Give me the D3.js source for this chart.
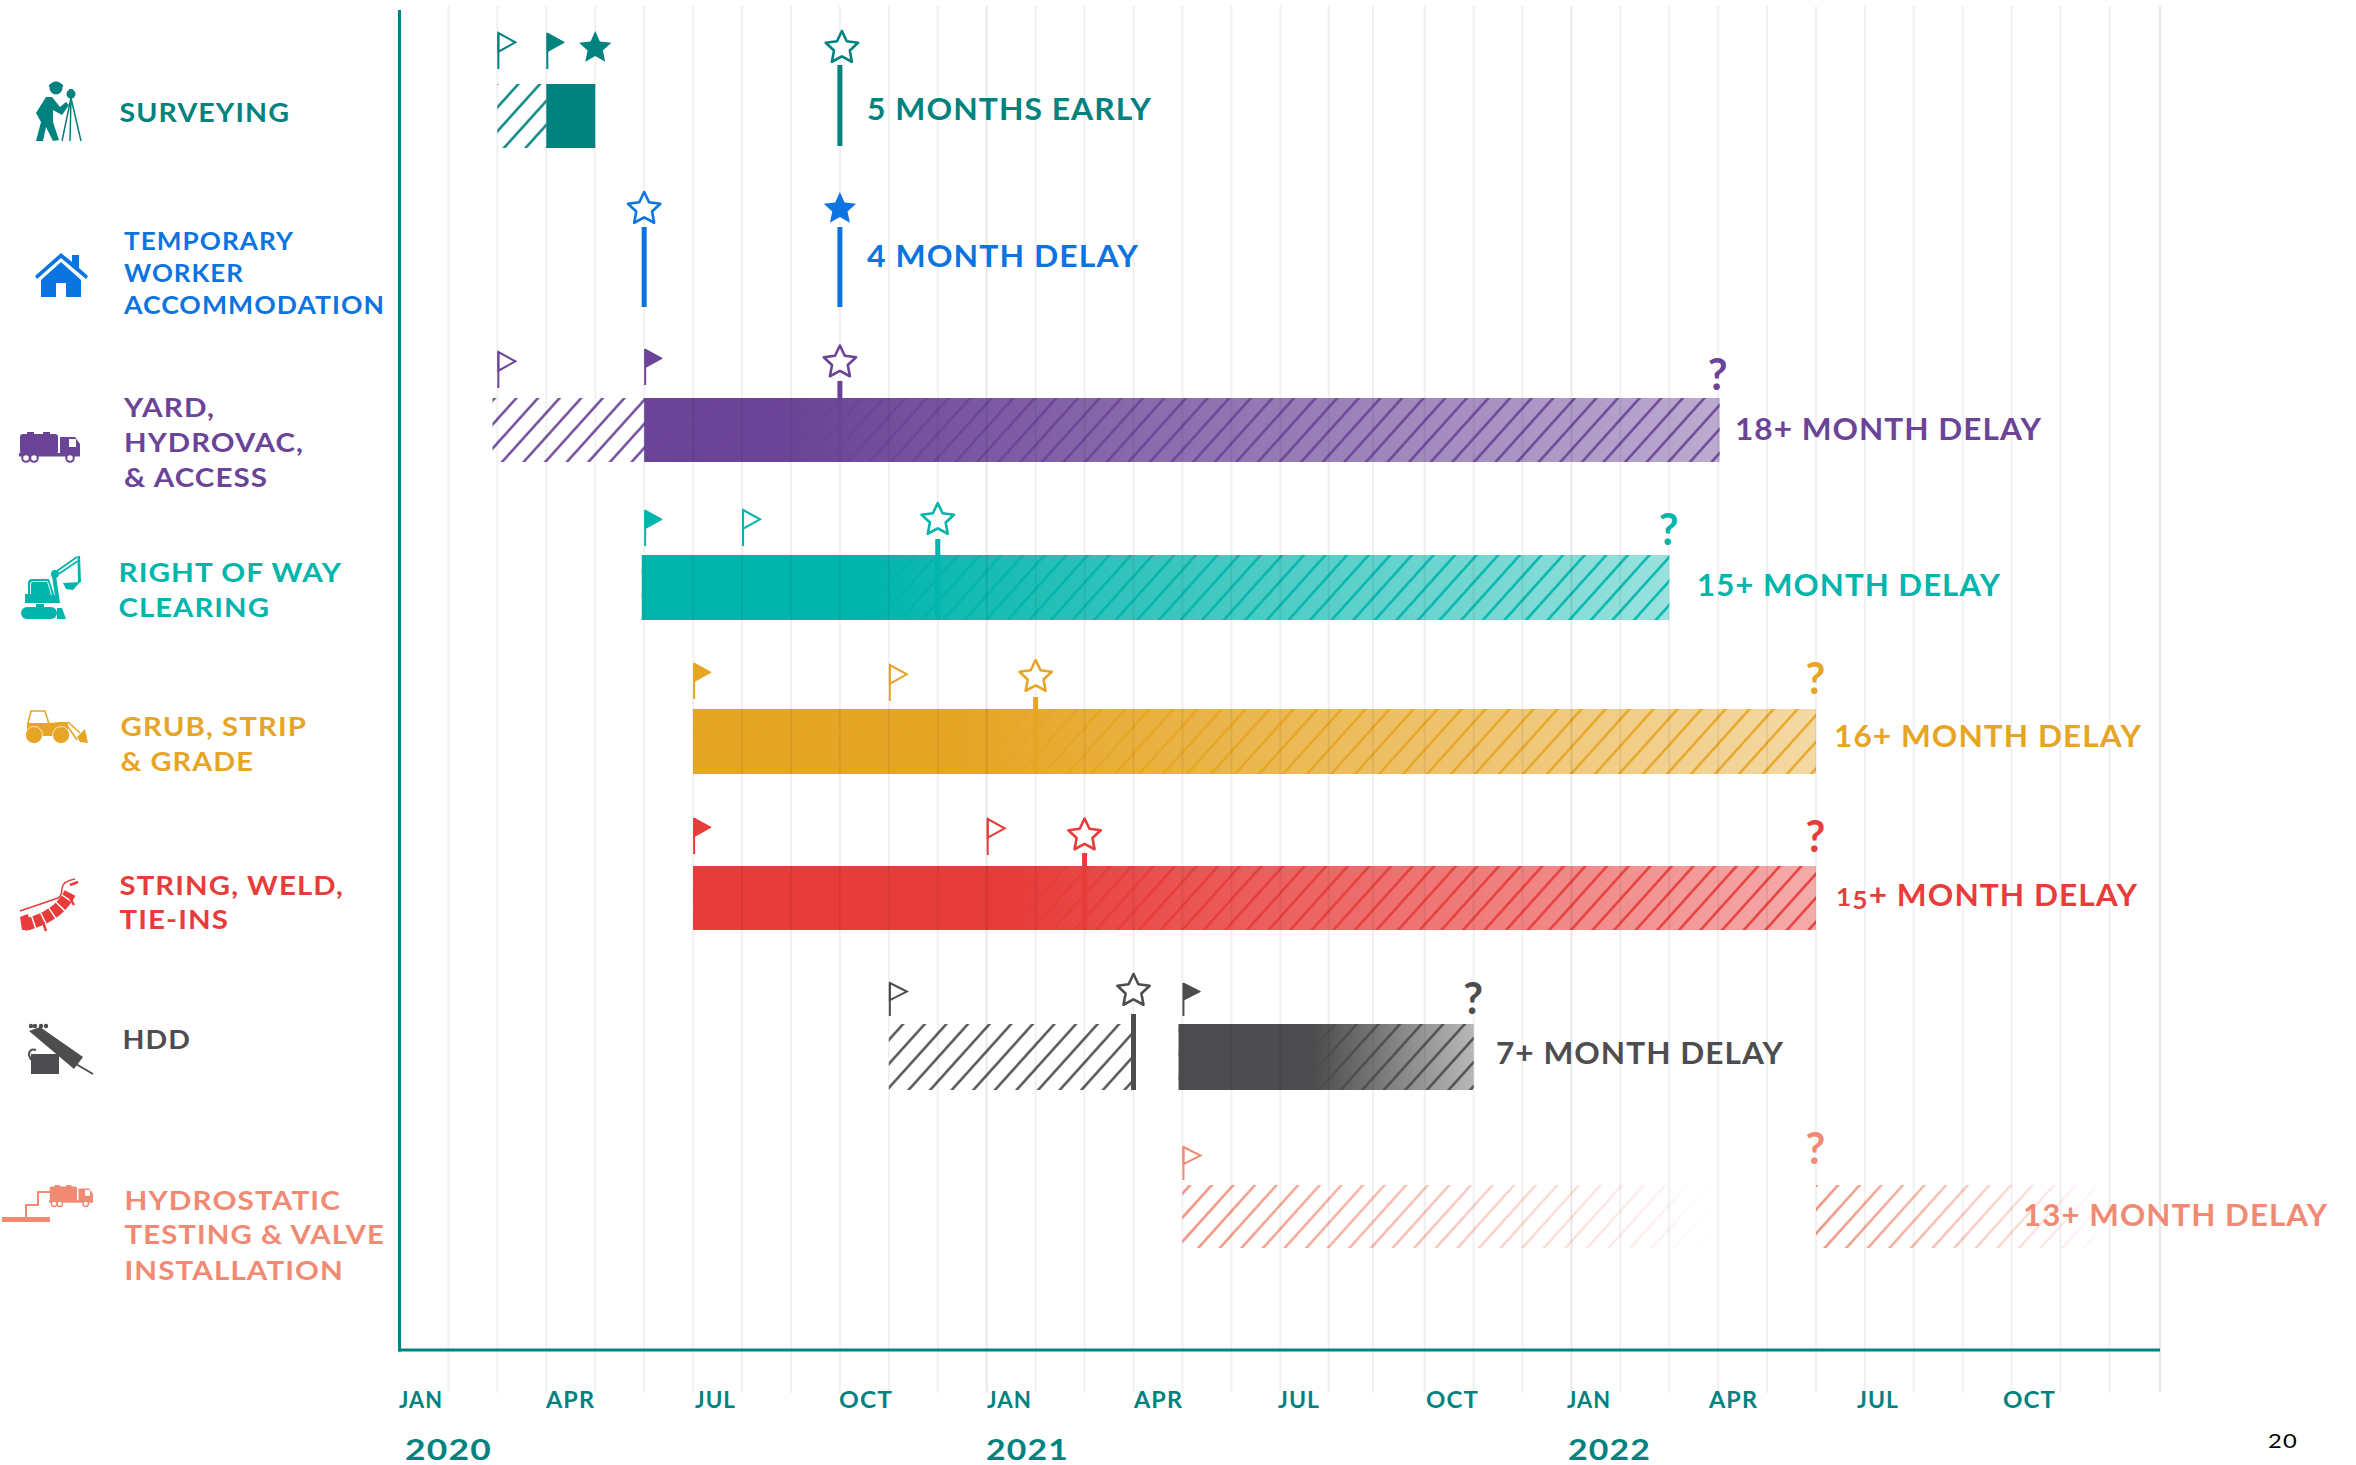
<!DOCTYPE html>
<html>
<head>
<meta charset="utf-8">
<script src="https://cdnjs.cloudflare.com/ajax/libs/d3/7.8.5/d3.min.js"></script>
<style>
html,body{margin:0;padding:0;background:#fff}
svg{display:block}
text{font-family:Lato,"Open Sans",sans-serif;font-weight:700;letter-spacing:1px}
</style>
</head>
<body>
<svg id="chart" width="2356" height="1465"></svg>
<script>
// ---- data (months counted from Jan 2020 = 0) ----
const categories = [
  ["SURVEYING"],
  ["TEMPORARY","WORKER","ACCOMMODATION"],
  ["YARD,","HYDROVAC,","& ACCESS"],
  ["RIGHT OF WAY","CLEARING"],
  ["GRUB, STRIP","& GRADE"],
  ["STRING, WELD,","TIE-INS"],
  ["HDD"],
  ["HYDROSTATIC","TESTING & VALVE","INSTALLATION"]
];
const plannedStart    = [2, null, 2, 7, 10, 12, 10, 16];
const actualStart     = [3, null, 5, 5, 6, 6, 16, null];
const plannedFinish   = [9, 5, 9, 11, 13, 14, 15, null];
const actualFinish    = [4, 9, null, null, null, null, null, null];
const unknownFinish   = [null, null, 27, 26, 29, 29, 22, 29];
const hatchSpans      = [[[2,3]], [], [[1.9,5]], [], [], [], [[10,15]], [[16,27],[29,35]]];
const solidSpans      = [[3,4], null, [5,27.03], [4.95,26], [6,29], [6,29], [15.92,22], null];
const fadeStart       = [null, null, 8.15, 9.55, 11.5, 12.5, 18.7, null];
const delayLabels     = ["5 MONTHS EARLY","4 MONTH DELAY","18+ MONTH DELAY","15+ MONTH DELAY",
                         "16+ MONTH DELAY","15+ MONTH DELAY","7+ MONTH DELAY","13+ MONTH DELAY"];
const monthTicks      = [0,3,6,9,12,15,18,21,24,27,30,33];
const monthLabels     = ["JAN","APR","JUL","OCT","JAN","APR","JUL","OCT","JAN","APR","JUL","OCT"];
const yearTicks       = [0,12,24];
const yearLabels      = ["2020","2021","2022"];
const pageNumber      = "20";

// ---- styling and layout ----
const colors    = ["#00827f","#0c74e0","#6b4497","#00b5ac","#e6a525","#e73c3a","#4d4d4f","#f18a73"];
const barTop    = [84, null, 398, 555, 709, 866, 1024, 1185];
const barBottom = [148, null, 462, 620, 774, 930, 1090, 1248];
const plannedFlagTop = [33, null, 352, 510, 665, 819, 983, 1147];
const actualFlagTop  = [33, null, 349, 510, 663, 818, 983, null];
const flagHeight = [36,36,36,36,36,36,33,33];
const starCy     = [48, 209, 362.5, 520, 677, 835.5, 991, null];
const stemTop    = [65, 227, 381, 539, 697, 853, 1014, null];
const stemBottom = [146, 307, 462, 620, 774, 930, 1090, null];
const qBase      = [null, null, 390, 545, 694, 852, 1014, 1164];
const hatchPitch = [21.6,21.6,21.6,21.6,24,21.6,21.6,21.6];
const endAlpha   = [1,1,.45,.4,.42,.43,.4,1];
const nameX      = [119.5,124,124,118.5,120.5,119.5,122.5,124.5];
const nameBase   = [[122],[250,282,314],[417,452,487],[582,617],[736,771],[895,929],[1049],[1210,1244,1280]];
const nameRight  = [[290],[294,244,385],[215,304,268],[342,270],[307,254],[344,229],[191],[341,385,344]];
const nameSize   = [26.5,25,27.5,27,27,27,26,27];
const delayX     = [867,867,1735,1697,1834,1836,1496,2023];
const delayRight = [1152,1139,2042,2001,2142,2138,1784,2328];
const delayBase  = [120,267,440,596,747,906,1064,1226];
const tickLeft   = [399,546,695,839,987,1134,1278,1426,1567,1709,1857,2003];
const tickRight  = [443,595,736,893,1032,1183,1320,1479,1611,1758,1899,2056];
const yearLeft   = [405,986,1568];
const yearRight  = [492,1069,1651];

const svg = d3.select("#chart");
const defs = svg.append("defs");
// the reference's monthly grid is very slightly uneven after mid-2021
const x = d3.scaleLinear().domain([0,18,19,20,21,35,36]).range([399.5,1280.3,1328.7,1373,1424.7,2109.4,2160]);
const axisColor = colors[0];
const AXIS_Y = 1350, GRID_TOP = 6, GRID_BOTTOM = 1393;

function fitted(sel, text, left, right, base, size, color){
  return sel.append("text").attr("x",left).attr("y",base).attr("font-size",size)
    .attr("fill",color).attr("textLength",right-left).attr("lengthAdjust","spacingAndGlyphs").text(text);
}

// defs: hatch pattern and fade gradients
categories.forEach((_,i)=>{
  const pitch = hatchPitch[i]*Math.sin(48*Math.PI/180);
  const p = defs.append("pattern").attr("id","hatch"+i).attr("patternUnits","userSpaceOnUse")
    .attr("width",pitch).attr("height",20).attr("patternTransform","rotate(42)");
  p.append("line").attr("x1",pitch/2).attr("x2",pitch/2).attr("y1",0).attr("y2",20)
    .attr("stroke",colors[i]).attr("stroke-width",2.4);
  if(fadeStart[i]!==null){
    const g = defs.append("linearGradient").attr("id","fade"+i).attr("gradientUnits","userSpaceOnUse")
      .attr("x1",x(fadeStart[i])).attr("x2",x(solidSpans[i][1])).attr("y1",0).attr("y2",0);
    g.append("stop").attr("offset",0).attr("stop-color",colors[i]).attr("stop-opacity",1);
    g.append("stop").attr("offset",1).attr("stop-color",colors[i]).attr("stop-opacity",endAlpha[i]);
  }
});
// disappearing hatch of the last row
hatchSpans[7].forEach((s,j)=>{
  const g = defs.append("linearGradient").attr("id","mg"+j).attr("gradientUnits","userSpaceOnUse")
    .attr("x1",x(s[0])).attr("x2",x(s[1])).attr("y1",0).attr("y2",0);
  g.append("stop").attr("offset",0).attr("stop-color","#fff").attr("stop-opacity",1);
  g.append("stop").attr("offset",1).attr("stop-color","#fff").attr("stop-opacity",0);
  defs.append("mask").attr("id","mask"+j).attr("maskUnits","userSpaceOnUse")
    .attr("x",0).attr("y",0).attr("width",2356).attr("height",1465)
    .append("rect").attr("width",2356).attr("height",1465).attr("fill","url(#mg"+j+")");
});

// bars
const gBars = svg.append("g");
categories.forEach((_,i)=>{
  if(barTop[i]===null) return;
  const y0=barTop[i], h=barBottom[i]-barTop[i];
  hatchSpans[i].forEach((s,j)=>{
    const r = gBars.append("rect").attr("x",x(s[0])).attr("y",y0).attr("width",x(s[1])-x(s[0])).attr("height",h)
      .attr("fill","url(#hatch"+i+")");
    if(i===7) r.attr("mask","url(#mask"+j+")");
  });
  const sp = solidSpans[i];
  if(sp){
    const fade = fadeStart[i]!==null;
    gBars.append("rect").attr("x",x(sp[0])).attr("y",y0).attr("width",x(sp[1])-x(sp[0])).attr("height",h)
      .attr("fill",fade?"url(#fade"+i+")":colors[i]);
    if(fade){
      gBars.append("rect").attr("x",x(sp[0])).attr("y",y0).attr("width",x(sp[1])-x(sp[0])).attr("height",h)
        .attr("fill","url(#hatch"+i+")");
    }
  }
});

// monthly grid, drawn over the bars so it shows faintly through them
const months = d3.range(1,37);
svg.append("g").selectAll("line").data(months).join("line")
  .attr("x1",d=>x(d)).attr("x2",d=>x(d)).attr("y1",GRID_TOP).attr("y2",GRID_BOTTOM)
  .attr("stroke","#000").attr("stroke-width",2)
  .attr("stroke-opacity",d=>(d%12===0)?0.09:0.06);

// axes
svg.append("line").attr("x1",x(0)).attr("x2",x(0)).attr("y1",10).attr("y2",AXIS_Y+1.5)
  .attr("stroke",axisColor).attr("stroke-width",3);
svg.append("line").attr("x1",x(0)-1.5).attr("x2",x(36)).attr("y1",AXIS_Y).attr("y2",AXIS_Y)
  .attr("stroke",axisColor).attr("stroke-width",3);

// month tick labels through a d3 axis
const axisG = svg.append("g").attr("transform",`translate(0,${1408})`)
  .call(d3.axisBottom(x).tickValues(monthTicks).tickFormat((d,i)=>monthLabels[i]).tickSize(0).tickPadding(0));
axisG.select(".domain").remove();
axisG.selectAll(".tick").attr("transform",(d,i)=>`translate(${tickLeft[i]},0)`);
axisG.selectAll("text").attr("y",0).attr("dy",0).attr("x",0).attr("text-anchor","start")
  .attr("font-size",22).attr("font-family",null).attr("fill",axisColor)
  .attr("textLength",(d,i)=>tickRight[i]-tickLeft[i]).attr("lengthAdjust","spacingAndGlyphs");
axisG.attr("font-family",null).attr("font-size",null);

// year labels
yearTicks.forEach((d,i)=>fitted(svg,yearLabels[i],yearLeft[i],yearRight[i],1460,29,axisColor));

// page number
fitted(svg,pageNumber,2268,2298,1448,19,"#000").attr("style","font-weight:400");

// flags
function flag(i,m,top,filled){
  const c=colors[i], px=x(m), H=flagHeight[i], W=17, T=H*0.52;
  const g=svg.append("g");
  g.append("line").attr("x1",px+1).attr("x2",px+1).attr("y1",top).attr("y2",top+H).attr("stroke",c).attr("stroke-width",2);
  g.append("path").attr("d",d3.line()([[px+1,top],[px+W+1,top+T/2],[px+1,top+T]])+"Z")
    .attr("fill",filled?c:"#fff").attr("fill-opacity",filled?1:0).attr("stroke",c).attr("stroke-width",filled?1:2).attr("stroke-linejoin","miter");
}
categories.forEach((_,i)=>{
  if(plannedStart[i]!==null) flag(i,plannedStart[i],plannedFlagTop[i],false);
  if(actualStart[i]!==null)  flag(i,actualStart[i],actualFlagTop[i],true);
});

// stars and stems
function starPath(cx,cy,R,r){
  const pts=d3.range(10).map(k=>{
    const a=-Math.PI/2+k*Math.PI/5, q=k%2?r:R;
    return [cx+q*Math.cos(a),cy+q*Math.sin(a)];
  });
  return d3.line()(pts)+"Z";
}
categories.forEach((_,i)=>{
  if(plannedFinish[i]!==null){
    svg.append("path").attr("d",starPath(x(plannedFinish[i])+(i===0?2:0),starCy[i],17,8.3))
      .attr("fill","#fff").attr("stroke",colors[i]).attr("stroke-width",2.6).attr("stroke-linejoin","round");
    svg.append("rect").attr("x",x(plannedFinish[i])-2.5).attr("width",5).attr("y",stemTop[i]).attr("height",stemBottom[i]-stemTop[i]).attr("fill",colors[i]);
  }
  if(actualFinish[i]!==null){
    svg.append("path").attr("d",starPath(x(actualFinish[i]),starCy[i],17,8)).attr("fill",colors[i]);
    if(i===1) svg.append("rect").attr("x",x(actualFinish[i])-2.5).attr("width",5).attr("y",stemTop[i]).attr("height",stemBottom[i]-stemTop[i]).attr("fill",colors[i]);
  }
});

// question marks
categories.forEach((_,i)=>{
  if(unknownFinish[i]===null) return;
  svg.append("text").attr("x",x(unknownFinish[i])).attr("y",qBase[i]).attr("text-anchor","middle")
    .attr("font-size",43).attr("fill",colors[i]).text("?");
});

// category names and delay labels
categories.forEach((lines,i)=>{
  lines.forEach((t,j)=>fitted(svg,t,nameX[i],nameRight[i][j],nameBase[i][j],nameSize[i],colors[i]));
  if(i===5){
    // this row's figures are old-style in the reference
    const label=delayLabels[i], t=svg.append("text").attr("x",delayX[i]).attr("y",delayBase[i]).attr("font-size",30)
      .attr("fill",colors[i]).attr("textLength",delayRight[i]-delayX[i]).attr("lengthAdjust","spacingAndGlyphs");
    t.append("tspan").attr("font-size",25).text(label.slice(0,1));
    t.append("tspan").attr("font-size",25).attr("dy",3).text(label.slice(1,2));
    t.append("tspan").attr("dy",-3).text(label.slice(2));
  } else {
    fitted(svg,delayLabels[i],delayX[i],delayRight[i],delayBase[i],30,colors[i]);
  }
});

// ---- pictograms ----
const ic = svg.append("g");
function P(d,c){return ic.append("path").attr("d",d).attr("fill",c);}
function S(d,c,w){return ic.append("path").attr("d",d).attr("fill","none").attr("stroke",c).attr("stroke-width",w);}
function C(cx,cy,r,c){return ic.append("circle").attr("cx",cx).attr("cy",cy).attr("r",r).attr("fill",c);}
function R(a,b,w,h,c,rx){return ic.append("rect").attr("x",a).attr("y",b).attr("width",w).attr("height",h).attr("fill",c).attr("rx",rx||0);}
// surveyor
(c=>{
  C(56,88,6.5,c); P("M49,85 Q56,78 63,85 L63,87 L49,87Z",c);
  P("M36,113 L46,97 L52,97 L60,107 L66,102 L69,105 L62,115 L53,110 L53,122 L59,140 L53,141 L46,127 L43,141 L36,141 L41,122Z",c);
  C(71,94,4.5,c); P("M69,89 L73,89 L72,99 L70,99Z",c);
  S("M71,98 L62,141 M71,98 L70,141 M71,98 L81,141",c,1.5);
})(colors[0]);
// house
(c=>{
  P("M35,276 L61,253 L72,262 L72,255 L79,255 L79,268 L88,276 L86,279 L61,258 L37,279Z",c);
  P("M41,280 L61,262 L81,280 L81,297 L66,297 L66,283 L56,283 L56,297 L41,297Z",c);
})(colors[1]);
// truck
function truck(c,ox,oy,k){
  const g=ic.append("g").attr("transform",`translate(${ox},${oy}) scale(${k})`);
  g.append("rect").attr("x",1).attr("y",2).attr("width",38).attr("height",20).attr("rx",3).attr("fill",c);
  g.append("rect").attr("x",8).attr("y",0).attr("width",7).attr("height",3).attr("fill",c);
  g.append("rect").attr("x",24).attr("y",0).attr("width",7).attr("height",3).attr("fill",c);
  g.append("path").attr("d","M41,5 L56,5 L61,12 L61,24 L41,24Z").attr("fill",c);
  g.append("rect").attr("x",50).attr("y",7).attr("width",7).attr("height",8).attr("fill","#fff");
  g.append("rect").attr("x",0).attr("y",21).attr("width",61).attr("height",3.5).attr("fill",c);
  [[7,26],[15,26],[51,26]].forEach(([a,b])=>{
    g.append("circle").attr("cx",a).attr("cy",b).attr("r",3.8).attr("fill","#fff").attr("stroke",c).attr("stroke-width",2);
  });
}
truck(colors[2],19,432,1);
truck(colors[7],49,1185,0.72);
// excavator
(c=>{
  R(21,607,36,12,c,6);
  P("M57,608 L62,608 L66,619 L57,619Z",c);
  R(36,604,8,3,c);
  P("M28,594 L28,583 Q28,579 32,579 L49,579 L54,594 L58,603 L25,603 L25,594Z",c);
  S("M30.5,594 L30.5,584 Q30.5,581.5 33,581.5 L47.5,581.5 L51.5,595",  "#fff",0.9);
  P("M52,576 L56,576 L60,603 L56,603Z",c);
  C(55,574,4,c);
  S("M57,571 L77,557 M58.5,574 L78,561",c,1.8);
  P("M77.5,556 L80,556 L81,582 L78,583Z",c);
  P("M63,583 L80,582 L73,590 L66,589Z",c);
})(colors[3]);
// loader
(c=>{
  S("M28,723 L31,711 L45,711 L49,724",c,1.6);
  P("M27,723 L50,723 L60,722 L68,722 L68,736 L27,736Z",c);
  ic.append("circle").attr("cx",34).attr("cy",735).attr("r",8.5).attr("fill",c).attr("stroke","#fff").attr("stroke-width",.7);
  ic.append("circle").attr("cx",61).attr("cy",735).attr("r",8.5).attr("fill",c).attr("stroke","#fff").attr("stroke-width",.7);
  S("M68,722 L80,733 M66,724 L77,740",c,1.5);
  P("M77,737 L85,729 L88,743 L80,742Z",c);
})(colors[4]);
// pipe
(c=>{
  S("M24,925 Q58,917 70,893",c,12).attr("stroke-dasharray","9 1.5");
  P("M20,917 L28,914 L31,930 L22,930Z",c);
  S("M20,911 L58,898 Q62,896 62,888 Q63,881 75,879",c,1.4);
  S("M70,885 L78,882 M43,922 L46,931 M70,898 L74,905",c,2.5);
})(colors[5]);
// drill
(c=>{
  R(31,1054,28,20,c);
  S("M36,1050 Q29,1048 29,1055 L31,1060",c,2);
  P("M29,1031 L40,1027 L83,1057 L74,1069Z",c);
  S("M76,1064 L93,1074",c,2);
  [31,35,41,46].forEach(a=>C(a,1026,2.2,c));
})(colors[6]);
// hydro pipework
(c=>{
  S("M50,1192 L38,1192 L38,1205 L26,1205 L26,1218",c,2);
  R(2,1217,48,5,c);
})(colors[7]);
</script>
</body>
</html>
